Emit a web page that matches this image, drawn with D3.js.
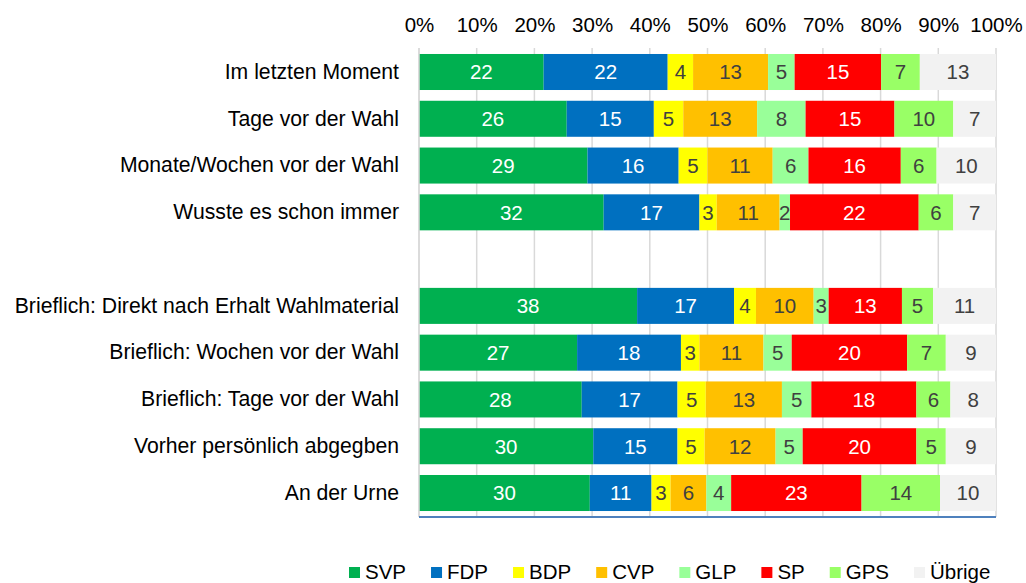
<!DOCTYPE html>
<html>
<head>
<meta charset="utf-8">
<script src="https://cdn.jsdelivr.net/npm/d3@7"></script>
<style>
  body { margin: 0; background: #fff; }
  svg text { font-family: "Liberation Sans", Arial, sans-serif; }
</style>
</head>
<body>
<script>
const width = 1026;
const height = 583;

const categories = [
  "Im letzten Moment",
  "Tage vor der Wahl",
  "Monate/Wochen vor der Wahl",
  "Wusste es schon immer",
  "",
  "Brieflich: Direkt nach Erhalt Wahlmaterial",
  "Brieflich: Wochen vor der Wahl",
  "Brieflich: Tage vor der Wahl",
  "Vorher persönlich abgegben",
  "An der Urne"
];

const parties = ["SVP", "FDP", "BDP", "CVP", "GLP", "SP", "GPS", "Übrige"];
const partyColors = ["#00B050", "#0070C0", "#FFFF00", "#FFC000", "#99FF99", "#FF0000", "#99FF66", "#F2F2F2"];
const whiteLabel = ["SVP", "FDP", "SP"];

// shares in %, one array per party, same order as categories (empty row = null)
const SVP    = [21.6, 25.6, 29.2, 32.0, null, 37.8, 27.4, 28.2, 30.2, 29.6];
const FDP    = [21.5, 15.1, 15.8, 16.6, null, 16.8, 18.0, 16.6, 14.6, 10.7];
const BDP    = [ 4.4,  5.1,  5.0,  3.0, null,  3.8,  3.2,  4.9,  4.7,  3.3];
const CVP    = [13.0, 12.8, 11.3, 10.9, null, 10.0, 11.1, 13.2, 12.3,  6.2];
const GLP    = [ 4.6,  8.4,  6.2,  1.8, null,  2.6,  4.9,  5.1,  4.7,  4.3];
const SP     = [15.0, 15.4, 16.0, 22.3, null, 12.7, 20.0, 18.2, 19.7, 22.6];
const GPS    = [ 6.7, 10.2,  6.2,  6.0, null,  5.4,  6.7,  5.9,  5.1, 13.6];
const Uebrige= [13.2,  7.4, 10.3,  7.4, null, 10.9,  8.7,  7.9,  8.7,  9.7];

const seriesValues = [SVP, FDP, BDP, CVP, GLP, SP, GPS, Uebrige];
const tickValues = [0, 10, 20, 30, 40, 50, 60, 70, 80, 90, 100];

const rows = categories.map((c, i) => {
  const r = { cat: c, empty: c === "" };
  parties.forEach((p, j) => r[p] = seriesValues[j][i] || 0);
  return r;
});

const svg = d3.select("body").append("svg").attr("width", width).attr("height", height);

const x = d3.scaleLinear().domain([0, 100]).range([419, 996]);
const y = d3.scaleBand().domain(d3.range(categories.length)).range([48, 517])
  .paddingInner(0.23).paddingOuter(0.128);
const color = d3.scaleOrdinal().domain(parties).range(partyColors);

// gridlines
svg.append("g").selectAll("line").data(tickValues).join("line")
  .attr("x1", d => x(d)).attr("x2", d => x(d))
  .attr("y1", 48).attr("y2", 517)
  .attr("stroke", "#D9D9D9").attr("stroke-width", 1.5);

// top axis labels
const xAxis = svg.append("g").attr("transform", "translate(0,32)")
  .call(d3.axisTop(x).tickValues(tickValues).tickSize(0).tickPadding(0).tickFormat(d => d + "%"));
xAxis.select(".domain").remove();
xAxis.selectAll("text").attr("font-size", "20.5px").attr("fill", "#000").attr("dy", 0)
  .style("font-family", "'Liberation Sans', Arial, sans-serif");

// category labels
const yAxis = svg.append("g").attr("transform", "translate(419,0)")
  .call(d3.axisLeft(y).tickSize(0).tickPadding(20).tickFormat(i => categories[i]));
yAxis.select(".domain").remove();
yAxis.selectAll("text").attr("font-size", "21.2px").attr("fill", "#000")
  .style("font-family", "'Liberation Sans', Arial, sans-serif");

const stacked = d3.stack().keys(parties)(rows);

const layers = svg.append("g").selectAll("g").data(stacked).join("g")
  .attr("fill", d => color(d.key));

layers.selectAll("rect").data(d => d.map((v, i) => ({ v, i, key: d.key })).filter(o => !rows[o.i].empty))
  .join("rect")
  .attr("x", o => x(o.v[0]))
  .attr("width", o => x(o.v[1]) - x(o.v[0]))
  .attr("y", o => y(o.i))
  .attr("height", y.bandwidth());

layers.selectAll("text").data(d => d.map((v, i) => ({ v, i, key: d.key })).filter(o => !rows[o.i].empty))
  .join("text")
  .attr("x", o => x((o.v[0] + o.v[1]) / 2))
  .attr("y", o => y(o.i) + y.bandwidth() / 2)
  .attr("dy", "0.36em")
  .attr("text-anchor", "middle")
  .attr("font-size", "20.5px")
  .attr("fill", o => whiteLabel.includes(o.key) ? "#fff" : "#404040")
  .text(o => Math.round(o.v[1] - o.v[0]));

// axis lines
svg.append("line").attr("x1", x(0)).attr("x2", x(0)).attr("y1", 48).attr("y2", 517)
  .attr("stroke", "#D9D9D9").attr("stroke-width", 1.5);
svg.append("line").attr("x1", x(0)).attr("x2", x(100)).attr("y1", 517).attr("y2", 517)
  .attr("stroke", "#4F81BD").attr("stroke-width", 2);

// legend
const legend = svg.append("g").attr("transform", "translate(349,0)");
let lx = 0;
parties.forEach(p => {
  const item = legend.append("g").attr("transform", `translate(${lx},0)`);
  item.append("rect").attr("x", 0).attr("y", 567).attr("width", 11).attr("height", 11).attr("fill", color(p));
  const t = item.append("text").attr("x", 16).attr("y", 579).attr("font-size", "20.5px").attr("fill", "#000").text(p);
  lx += 16 + t.node().getComputedTextLength() + 25;
});
</script>
</body>
</html>
